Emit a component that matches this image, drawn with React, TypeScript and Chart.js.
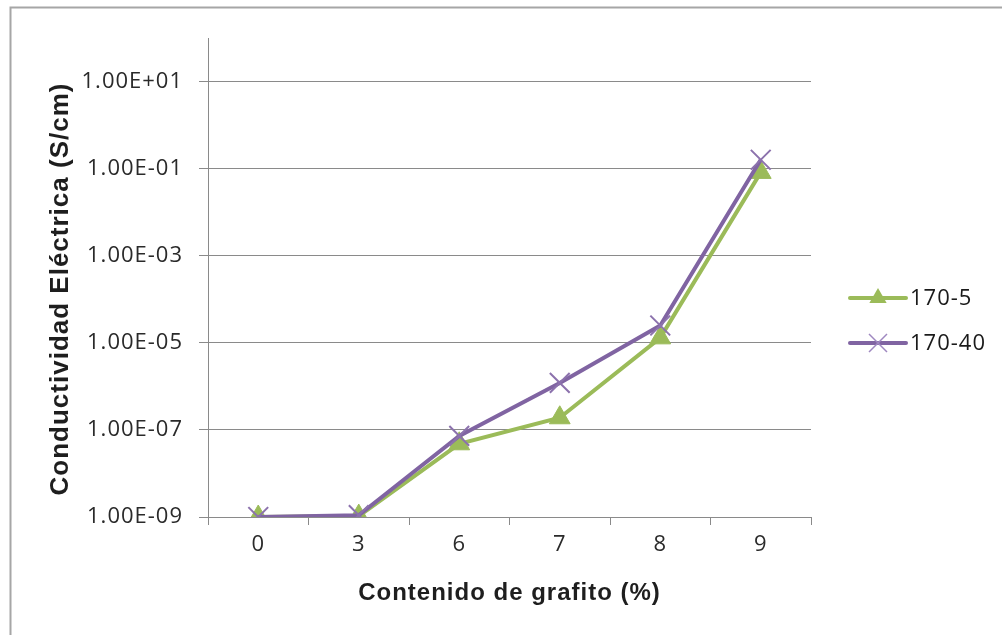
import React, { useEffect, useRef } from "react";
import { Chart, registerables } from "chart.js";

Chart.register(...registerables);

// Graphite content categories (%)
const categories: string[] = ["0", "3", "6", "7", "8", "9"];

// Electrical conductivity (S/cm) for each formulation
const serie170_5: number[] = [1.0e-9, 1.05e-9, 4.8e-8, 1.9e-7, 1.3e-5, 8.2e-2];
const serie170_40: number[] = [1.0e-9, 1.1e-9, 7.3e-8, 1.2e-6, 2.5e-5, 1.6e-1];

const seriesNames: string[] = ["170-5", "170-40"];

// Log axis ticks, every two decades
const yTickValues: number[] = [1e-9, 1e-7, 1e-5, 1e-3, 1e-1, 1e1];
const yTickLabels: string[] = ["1.00E-09", "1.00E-07", "1.00E-05", "1.00E-03", "1.00E-01", "1.00E+01"];

const xTitle = "Contenido de grafito (%)";
const yTitle = "Conductividad Eléctrica (S/cm)";

const GREEN = "#9BBB59";
const PURPLE = "#8064A2";
const AXIS_GREY = "#8a8a8a";
const TICK_FONT = "'Open Sans'";
const TITLE_FONT = "'Liberation Sans', Arial, sans-serif";

const W = 1002;
const H = 635;

// Slightly wider letter spacing for every label drawn on the canvas
const spacingPlugin = {
  id: "spacing",
  beforeDraw(chart: any) {
    chart.ctx.letterSpacing = "1px";
  },
};

// Frame, axis titles and the right-hand legend
const decorPlugin = {
  id: "decor",
  afterDraw(chart: any) {
    const ctx: any = chart.ctx;
    const area = chart.chartArea;
    ctx.save();
    // outer frame (top and left edges)
    ctx.strokeStyle = "#a6a6a6";
    ctx.lineWidth = 2;
    ctx.beginPath();
    ctx.moveTo(10.5, H);
    ctx.lineTo(10.5, 7.5);
    ctx.lineTo(W, 7.5);
    ctx.stroke();

    // axis titles
    ctx.fillStyle = "#1e1e1e";
    ctx.textAlign = "center";
    ctx.textBaseline = "middle";
    ctx.letterSpacing = "1px";
    ctx.font = `bold 24px ${TITLE_FONT}`;
    ctx.fillText(xTitle, (area.left + area.right) / 2, 593);
    ctx.save();
    ctx.translate(61, 289);
    ctx.rotate(-Math.PI / 2);
    ctx.font = `bold 26px ${TITLE_FONT}`;
    ctx.fillText(yTitle, 0, 0);
    ctx.restore();

    // legend
    const items = [
      { name: seriesNames[0], color: GREEN, marker: "triangle", y: 298 },
      { name: seriesNames[1], color: PURPLE, marker: "cross", y: 343 },
    ];
    const x0 = 850;
    const x1 = 906;
    const cx = (x0 + x1) / 2;
    items.forEach((it) => {
      ctx.strokeStyle = it.color;
      ctx.lineWidth = 4;
      ctx.lineCap = "round";
      ctx.beginPath();
      ctx.moveTo(x0, it.y);
      ctx.lineTo(x1, it.y);
      ctx.stroke();
      if (it.marker === "triangle") {
        const r = 10;
        ctx.fillStyle = it.color;
        ctx.beginPath();
        ctx.moveTo(cx, it.y - r);
        ctx.lineTo(cx + r * 0.866, it.y + r * 0.5);
        ctx.lineTo(cx - r * 0.866, it.y + r * 0.5);
        ctx.closePath();
        ctx.fill();
      } else {
        const d = 9;
        ctx.lineWidth = 1.5;
        ctx.lineCap = "butt";
        ctx.strokeStyle = "#9f88c0";
        ctx.beginPath();
        ctx.moveTo(cx - d, it.y - d);
        ctx.lineTo(cx + d, it.y + d);
        ctx.moveTo(cx - d, it.y + d);
        ctx.lineTo(cx + d, it.y - d);
        ctx.stroke();
      }
      ctx.fillStyle = "#1a1a1a";
      ctx.font = `22px ${TICK_FONT}`;
      ctx.textBaseline = "middle";
      ctx.textAlign = "left";
      ctx.fillText(it.name, 910, it.y + 1);
    });
    ctx.restore();
    ctx.letterSpacing = "0px";
  },
};

export default function App() {
  const canvasRef = useRef<HTMLCanvasElement | null>(null);

  useEffect(() => {
    const canvas = canvasRef.current;
    if (!canvas) return;
    const chart = new Chart(canvas, {
      type: "line",
      data: {
        labels: categories,
        datasets: [
          {
            label: seriesNames[1],
            data: serie170_40,
            borderColor: PURPLE,
            backgroundColor: PURPLE,
            borderWidth: 4,
            pointStyle: "crossRot",
            pointRadius: 14,
            pointBorderWidth: 2,
            pointBorderColor: "#8c72ad",
            pointHoverRadius: 14,
            tension: 0,
            order: 0,
          },
          {
            label: seriesNames[0],
            data: serie170_5,
            borderColor: GREEN,
            backgroundColor: GREEN,
            borderWidth: 4,
            pointStyle: "triangle",
            pointRadius: 12,
            pointBorderWidth: 1,
            pointHoverRadius: 12,
            tension: 0,
            order: 1,
          },
        ],
      },
      options: {
        animation: false,
        responsive: false,
        devicePixelRatio: 1,
        events: [],
        layout: { padding: { left: 0, top: 38, right: W - 811, bottom: 0 } },
        plugins: {
          legend: { display: false },
          tooltip: { enabled: false },
        },
        scales: {
          x: {
            type: "category",
            offset: true,
            afterFit: (scale: any) => {
              scale.height = H - 517;
            },
            grid: {
              offset: true,
              drawOnChartArea: false,
              drawTicks: true,
              tickLength: 8,
              color: AXIS_GREY,
              lineWidth: 1,
            },
            border: { display: true, color: AXIS_GREY, width: 1 },
            ticks: {
              color: "#2a2a2a",
              font: { family: TICK_FONT, size: 22 },
              padding: 7,
              maxRotation: 0,
            },
            title: { display: false },
          },
          y: {
            type: "logarithmic",
            min: 1e-9,
            max: 1e2,
            afterFit: (scale: any) => {
              scale.width = 208;
            },
            afterBuildTicks: (scale: any) => {
              scale.ticks = yTickValues.map((v) => ({ value: v }));
            },
            grid: {
              color: AXIS_GREY,
              lineWidth: 1,
              tickLength: 9,
              drawTicks: true,
            },
            border: { display: true, color: AXIS_GREY, width: 1 },
            ticks: {
              color: "#2a2a2a",
              font: { family: TICK_FONT, size: 22 },
              padding: 16,
              autoSkip: false,
              callback: (value: any) => {
                const i = yTickValues.findIndex((v) => Math.abs(Math.log10(v) - Math.log10(Number(value))) < 1e-6);
                return i >= 0 ? yTickLabels[i] : "";
              },
            },
            title: { display: false },
          },
        },
      },
      plugins: [spacingPlugin, decorPlugin],
    } as any);
    return () => chart.destroy();
  }, []);

  return (
    <div style={{ position: "absolute", left: 0, top: 0, width: W, height: H, background: "#fff" }}>
      <canvas ref={canvasRef} width={W} height={H} style={{ display: "block", width: W, height: H }} />
    </div>
  );
}
